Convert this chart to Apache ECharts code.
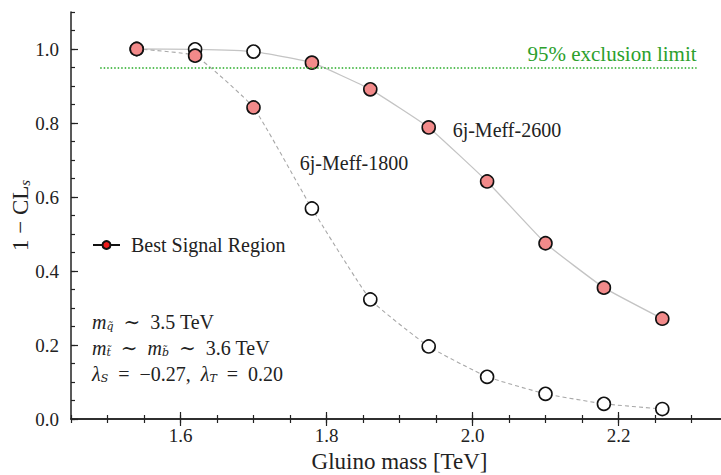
<!DOCTYPE html>
<html>
<head>
<meta charset="utf-8">
<script src="https://cdn.jsdelivr.net/npm/echarts@6/dist/echarts.min.js"></script>
</head>
<body style="margin:0">
<div id="main" style="width:721px;height:475px;"></div>
<script type="text/javascript">
// gluino mass points [TeV]
var mass = [1.54, 1.62, 1.70, 1.78, 1.86, 1.94, 2.02, 2.10, 2.18, 2.26];
// 1 - CLs of each signal region
var cls2600 = [1.0, 0.999, 0.993, 0.963, 0.891, 0.788, 0.642, 0.475, 0.355, 0.271];
var cls1800 = [1.0, 0.982, 0.842, 0.569, 0.323, 0.196, 0.114, 0.068, 0.041, 0.027];
// which region is best at each mass point
var bestSR = ['1800', '1800', '1800', '2600', '2600', '2600', '2600', '2600', '2600', '2600'];
var xTicks = [1.6, 1.8, 2.0, 2.2];
var yTicks = [0.0, 0.2, 0.4, 0.6, 0.8, 1.0];
var exclLimit = 0.95;
var exclRange = [1.49, 2.307];

var serif = "'Liberation Serif', 'DejaVu Serif', serif";
var ink = '#222';

var line2600 = [], line1800 = [], bestPts = [], otherPts = [];
for (var i = 0; i < mass.length; i++) {
    line2600.push([mass[i], cls2600[i]]);
    line1800.push([mass[i], cls1800[i]]);
    if (bestSR[i] === '2600') {
        bestPts.push([mass[i], cls2600[i]]);
        otherPts.push([mass[i], cls1800[i]]);
    } else {
        bestPts.push([mass[i], cls1800[i]]);
        otherPts.push([mass[i], cls2600[i]]);
    }
}

function xAx(pos, major, labels) {
    var a = {
        type: 'value', min: 1.45, max: 2.35, position: pos,
        axisLine: { show: major, lineStyle: { color: ink, width: 1.5 } },
        splitLine: { show: false },
        axisTick: { inside: true, length: major ? 7 : 4, lineStyle: { color: ink, width: 1.2 } },
        axisLabel: { show: false }
    };
    if (major) {
        a.axisTick.customValues = xTicks;
        a.axisLabel = { show: labels, customValues: xTicks, margin: 7, fontFamily: serif, fontSize: 19, color: ink,
            formatter: function (v) { return v.toFixed(1); } };
    } else {
        a.interval = 0.05;
    }
    if (labels) {
        a.name = 'Gluino mass [TeV]';
        a.nameLocation = 'middle';
        a.nameGap = 31;
        a.nameTextStyle = { fontFamily: serif, fontSize: 23, color: ink };
    }
    return a;
}
function yAx(pos, major, labels) {
    var a = {
        type: 'value', min: 0, max: 1.1, position: pos,
        axisLine: { show: major && pos === 'left', lineStyle: { color: ink, width: 1.5 } },
        splitLine: { show: false },
        axisTick: { inside: true, length: major ? 7 : 4, lineStyle: { color: ink, width: 1.2 } },
        axisLabel: { show: false }
    };
    if (major) {
        a.axisTick.customValues = yTicks;
        a.axisLabel = { show: labels, customValues: yTicks, margin: 12, fontFamily: serif, fontSize: 19, color: ink,
            formatter: function (v) { return v.toFixed(1); } };
    } else {
        a.interval = 0.05;
    }
    if (labels) {
        a.name = '1 − CL{s|s}';
        a.nameLocation = 'middle';
        a.nameGap = 39;
        a.nameMoveOverlap = false;
        a.nameTextStyle = { fontFamily: serif, fontSize: 23, color: ink,
            rich: { s: { fontFamily: serif, fontSize: 15, fontStyle: 'italic', color: ink, padding: [9, 0, 0, 0] } } };
    }
    return a;
}

var mathRich = {
    i: { fontFamily: serif, fontStyle: 'italic', fontSize: 20, fill: ink },
    sub: { fontFamily: "'DejaVu Serif', serif", fontStyle: 'italic', fontSize: 11, fill: ink, padding: [9, 0, 0, 0] },
    t: { fontFamily: serif, fontSize: 20, fill: ink }
};

var chart = echarts.init(document.getElementById('main'), null, { renderer: 'svg' });
var option = {
    backgroundColor: '#fff',
    animation: false,
    grid: { left: 71, top: 12, width: 657, height: 407, containLabel: false, outerBoundsMode: 'none' },
    legend: {
        left: 92, top: 235, padding: 0,
        itemWidth: 27, itemHeight: 10,
        textStyle: { fontFamily: serif, fontSize: 20, color: ink, padding: [0, 0, 0, 6] },
        data: ['Best Signal Region']
    },
    xAxis: [xAx('bottom', true, true), xAx('bottom', false, false), xAx('top', true, false), xAx('top', false, false)],
    yAxis: [yAx('left', true, true), yAx('left', false, false), yAx('right', true, false), yAx('right', false, false)],
    graphic: [{
        type: 'text', left: 92, top: 309,
        style: {
            text: '{i|m}{sub|q̃}{t|  ∼  3.5 TeV}\n{i|m}{sub|t̃}{t|  ∼  }{i|m}{sub|b̃}{t|  ∼  3.6 TeV}\n{i|λ}{sub|S}{t|  =  −0.27,  }{i|λ}{sub|T}{t|  =  0.20}',
            rich: mathRich, lineHeight: 26
        }
    }],
    series: [
        {
            name: '6j-Meff-2600', type: 'line', data: line2600, smooth: 0.12, showSymbol: false,
            lineStyle: { color: '#c4c4c4', width: 1.3, type: 'solid' }, z: 1,
            markPoint: {
                symbol: 'circle', symbolSize: 0,
                label: { show: true, position: 'right', distance: 0, fontFamily: serif, fontSize: 20, color: ink, formatter: '6j-Meff-2600' },
                data: [{ coord: [1.9728, 0.781] }]
            }
        },
        {
            name: '6j-Meff-1800', type: 'line', data: line1800, smooth: 0.12, showSymbol: false,
            lineStyle: { color: '#a8a8a8', width: 1.1, type: [4, 3] }, z: 1,
            markPoint: {
                symbol: 'circle', symbolSize: 0,
                label: { show: true, position: 'right', distance: 0, fontFamily: serif, fontSize: 20, color: ink, formatter: '6j-Meff-1800' },
                data: [{ coord: [1.7634, 0.692] }]
            },
            markLine: {
                silent: true, symbol: 'none',
                lineStyle: { color: '#22aa22', width: 1.5, type: [1.5, 2] },
                label: { show: true, position: 'insideEndTop', fontFamily: serif, fontSize: 21, color: '#2ca02c', formatter: '95% exclusion limit', distance: [0, 3] },
                data: [[{ coord: [exclRange[0], exclLimit] }, { coord: [exclRange[1], exclLimit] }]]
            }
        },
        {
            name: 'other', type: 'scatter', data: otherPts, symbol: 'circle', symbolSize: 13, z: 3,
            itemStyle: { color: '#fff', borderColor: '#111', borderWidth: 1.6, opacity: 1 }
        },
        {
            name: 'best', type: 'scatter', data: bestPts, symbol: 'circle', symbolSize: 13, z: 4,
            itemStyle: { color: '#f28a8a', borderColor: '#111', borderWidth: 1.6, opacity: 1 }
        },
        {
            name: 'Best Signal Region', type: 'line', data: [], symbol: 'circle', symbolSize: 8,
            lineStyle: { color: '#111', width: 1.3 },
            itemStyle: { color: '#ee1c1c', borderColor: '#111', borderWidth: 1 }
        }
    ]
};
chart.setOption(option);
</script>
</body>
</html>
